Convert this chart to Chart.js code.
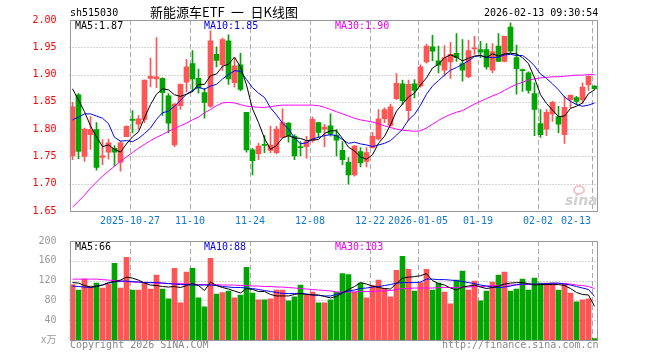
<!DOCTYPE html>
<html>
<head>
<meta charset="utf-8">
<script src="https://cdn.jsdelivr.net/npm/chart.js@4.4.1/dist/chart.umd.min.js"></script>
<style>
body { margin: 0; background: #fff; }
#wrap { position: relative; width: 660px; height: 360px; overflow: hidden; font-family: 'DejaVu Sans Mono', monospace; font-size: 10px; }
canvas { position: absolute; left: 0; }
.t { position: absolute; white-space: nowrap; line-height: 12px; }
</style>
</head>
<body>
<div id="wrap">
  <canvas id="kChart" width="660" height="230" style="top:0"></canvas>
  <canvas id="volChart" width="660" height="130" style="top:230px"></canvas>

  <div class="t" style="left:70px;top:7px;color:#000">sh515030</div>
  <div class="t" style="left:150px;top:4px;font-size:13px;line-height:16px;font-family:'Noto Sans CJK SC',sans-serif;color:#000">新能源车ETF&ensp;一&ensp;日K线图</div>
  <div class="t" style="left:484px;top:7px;color:#000">2026-02-13 09:30:54</div>

  <div class="t" style="left:75px;top:20px;color:#000">MA5:1.87</div>
  <div class="t" style="left:204px;top:20px;color:#0000ee">MA10:1.85</div>
  <div class="t" style="left:335px;top:20px;color:#ee00ee">MA30:1.90</div>

  <div class="t" style="left:75px;top:241px;color:#000">MA5:66</div>
  <div class="t" style="left:204px;top:241px;color:#0000ee">MA10:88</div>
  <div class="t" style="left:335px;top:241px;color:#ee00ee">MA30:103</div>

  <div class="t" style="left:70px;top:339px;color:#888">Copyright 2026 SINA.COM</div>
  <div class="t" style="left:442px;top:339px;color:#888">http://finance.sina.com.cn</div>

  <div class="t" style="left:573px;top:185px;width:8px;height:6px;border:2px solid #f6c4c4;border-radius:50%"></div>
  <div class="t" style="left:565px;top:192px;font:italic bold 14px 'DejaVu Sans',sans-serif;color:#d0d0d0">sina</div>
</div>

<script>
// 交易日
const dates = [
  '2025-10-13','2025-10-14','2025-10-15','2025-10-16','2025-10-17',
  '2025-10-20','2025-10-21','2025-10-22','2025-10-23','2025-10-24',
  '2025-10-27','2025-10-28','2025-10-29','2025-10-30','2025-10-31',
  '2025-11-03','2025-11-04','2025-11-05','2025-11-06','2025-11-07',
  '2025-11-10','2025-11-11','2025-11-12','2025-11-13','2025-11-14',
  '2025-11-17','2025-11-18','2025-11-19','2025-11-20','2025-11-21',
  '2025-11-24','2025-11-25','2025-11-26','2025-11-27','2025-11-28',
  '2025-12-01','2025-12-02','2025-12-03','2025-12-04','2025-12-05',
  '2025-12-08','2025-12-09','2025-12-10','2025-12-11','2025-12-12',
  '2025-12-15','2025-12-16','2025-12-17','2025-12-18','2025-12-19',
  '2025-12-22','2025-12-23','2025-12-24','2025-12-25','2025-12-26',
  '2025-12-29','2025-12-30','2025-12-31',
  '2026-01-05','2026-01-06','2026-01-07','2026-01-08','2026-01-09',
  '2026-01-12','2026-01-13','2026-01-14','2026-01-15','2026-01-16',
  '2026-01-19','2026-01-20','2026-01-21','2026-01-22','2026-01-23',
  '2026-01-26','2026-01-27','2026-01-28','2026-01-29','2026-01-30',
  '2026-02-02','2026-02-03','2026-02-04','2026-02-05','2026-02-06',
  '2026-02-09','2026-02-10','2026-02-11','2026-02-12','2026-02-13'
];

// K线数据
const opens = [1.751,1.863,1.750,1.790,1.799,1.748,1.758,1.765,1.739,1.786,
  1.818,1.809,1.818,1.893,1.892,1.893,1.861,1.771,1.843,1.886,
  1.920,1.893,1.867,1.842,1.937,1.918,1.962,1.885,1.918,1.831,
  1.762,1.755,1.772,1.761,1.757,1.785,1.811,1.787,1.768,1.768,
  1.779,1.812,1.800,1.806,1.789,1.761,1.739,1.716,1.759,1.741,
  1.766,1.782,1.819,1.807,1.856,1.883,1.834,1.883,1.879,1.923,
  1.951,1.925,1.908,1.923,1.939,1.920,1.896,1.947,1.946,1.946,
  1.908,1.952,1.924,1.987,1.931,1.909,1.903,1.865,1.810,1.800,
  1.828,1.823,1.790,1.854,1.858,1.854,1.881,1.879];
const highs = [1.849,1.865,1.802,1.823,1.812,1.781,1.782,1.770,1.778,1.806,
  1.834,1.825,1.890,1.930,1.968,1.894,1.865,1.847,1.883,1.928,
  1.944,1.910,1.875,1.980,1.951,1.967,1.973,1.930,1.939,1.831,
  1.765,1.774,1.788,1.805,1.805,1.837,1.812,1.790,1.777,1.787,
  1.822,1.813,1.809,1.828,1.799,1.777,1.748,1.770,1.766,1.766,
  1.794,1.836,1.839,1.846,1.902,1.890,1.890,1.891,1.918,1.956,
  1.972,1.952,1.953,1.959,1.975,1.964,1.963,1.970,1.961,1.957,
  1.957,1.975,1.970,1.995,1.954,1.910,1.905,1.885,1.836,1.836,
  1.851,1.842,1.860,1.863,1.860,1.885,1.898,1.880];
const lows = [1.744,1.746,1.741,1.763,1.725,1.735,1.745,1.732,1.723,1.786,
  1.793,1.800,1.812,1.878,1.876,1.825,1.793,1.768,1.836,1.868,
  1.868,1.866,1.820,1.840,1.914,1.907,1.882,1.877,1.870,1.758,
  1.716,1.744,1.757,1.757,1.755,1.784,1.776,1.744,1.751,1.747,
  1.776,1.784,1.768,1.787,1.751,1.735,1.699,1.714,1.731,1.731,
  1.765,1.780,1.812,1.805,1.854,1.845,1.816,1.857,1.877,1.921,
  1.925,1.903,1.897,1.893,1.924,1.888,1.894,1.937,1.931,1.910,
  1.903,1.924,1.923,1.940,1.864,1.869,1.866,1.788,1.785,1.788,
  1.814,1.793,1.774,1.839,1.845,1.847,1.871,1.872];
const closes = [1.841,1.759,1.800,1.799,1.730,1.751,1.775,1.758,1.775,1.805,
  1.816,1.819,1.890,1.897,1.896,1.867,1.811,1.846,1.882,1.914,
  1.892,1.875,1.849,1.962,1.926,1.964,1.892,1.916,1.873,1.762,
  1.742,1.769,1.770,1.771,1.800,1.812,1.788,1.751,1.766,1.777,
  1.818,1.794,1.804,1.791,1.780,1.744,1.716,1.769,1.738,1.757,
  1.787,1.819,1.836,1.841,1.884,1.852,1.882,1.871,1.914,1.952,
  1.943,1.917,1.931,1.937,1.931,1.908,1.944,1.949,1.941,1.914,
  1.942,1.924,1.970,1.943,1.911,1.907,1.871,1.836,1.790,1.831,
  1.849,1.809,1.840,1.862,1.851,1.877,1.897,1.874];

// 均线 (价格)
const ma5 = [1.874,1.853,1.832,1.806,1.786,1.768,1.771,1.763,1.758,1.773,
  1.786,1.795,1.821,1.845,1.864,1.874,1.872,1.863,1.860,1.864,
  1.869,1.882,1.882,1.898,1.901,1.915,1.919,1.932,1.914,1.881,
  1.837,1.812,1.783,1.763,1.770,1.784,1.788,1.784,1.783,1.779,
  1.780,1.781,1.792,1.797,1.797,1.783,1.767,1.760,1.749,1.745,
  1.753,1.774,1.787,1.808,1.833,1.846,1.859,1.866,1.881,1.894,
  1.912,1.919,1.931,1.936,1.932,1.925,1.930,1.934,1.935,1.931,
  1.938,1.934,1.938,1.939,1.938,1.931,1.920,1.894,1.863,1.847,
  1.835,1.823,1.824,1.838,1.842,1.848,1.865,1.872];
const ma10 = [1.817,1.822,1.828,1.828,1.824,1.820,1.810,1.785,1.778,1.779,
  1.777,1.783,1.792,1.802,1.818,1.830,1.833,1.842,1.853,1.864,
  1.871,1.877,1.873,1.879,1.882,1.892,1.900,1.907,1.906,1.891,
  1.876,1.866,1.858,1.839,1.826,1.811,1.800,1.784,1.773,1.775,
  1.782,1.785,1.788,1.790,1.788,1.781,1.774,1.776,1.773,1.771,
  1.768,1.771,1.774,1.779,1.789,1.800,1.817,1.827,1.844,1.864,
  1.879,1.889,1.899,1.908,1.913,1.919,1.925,1.933,1.935,1.932,
  1.931,1.932,1.936,1.937,1.935,1.935,1.927,1.916,1.901,1.893,
  1.883,1.872,1.859,1.851,1.845,1.842,1.844,1.848];
const ma30 = [1.657,1.668,1.679,1.692,1.703,1.714,1.723,1.732,1.741,1.749,
  1.757,1.765,1.772,1.779,1.785,1.790,1.796,1.801,1.806,1.811,
  1.817,1.822,1.830,1.836,1.843,1.848,1.849,1.848,1.845,1.842,
  1.841,1.840,1.840,1.841,1.843,1.844,1.844,1.844,1.844,1.844,
  1.844,1.843,1.840,1.836,1.832,1.828,1.824,1.820,1.817,1.815,
  1.813,1.810,1.806,1.803,1.800,1.798,1.797,1.796,1.797,1.802,
  1.809,1.816,1.822,1.827,1.831,1.834,1.840,1.846,1.851,1.856,
  1.861,1.865,1.871,1.877,1.882,1.886,1.890,1.892,1.894,1.895,
  1.896,1.896,1.897,1.898,1.899,1.899,1.900,1.900];

// 成交量 (万)
const volumes = [112,101,123,109,115,105,113,155,105,167,
  101,101,117,103,131,103,83,145,75,137,
  145,85,67,165,93,96,99,85,91,147,
  95,81,81,83,101,101,79,87,111,91,
  97,75,75,81,97,134,132,97,115,85,
  110,121,104,87,141,169,143,99,116,143,
  101,115,97,73,121,139,101,119,79,99,
  117,131,137,99,103,123,101,125,115,115,
  115,101,114,95,77,81,83,3];
const volMa5 = [116,115,110,107,108,111,116,118,121,127,
  125,121,115,111,110,108,107,108,106,110,
  114,110,100,117,110,106,103,99,95,104,
  102,98,98,92,89,89,89,92,94,92,
  91,91,88,85,88,95,102,108,116,113,
  109,106,104,103,114,125,127,128,130,134,
  120,114,111,105,101,107,109,111,107,104,
  106,109,113,115,116,116,114,111,112,112,
  112,112,110,104,96,92,91,68];
const volMa10 = [109,108,107,106,109,111,115,118,119,119,
  118,117,116,116,116,115,114,113,112,112,
  111,111,111,111,110,108,107,106,106,105,
  104,102,100,98,96,94,94,94,94,93,
  91,90,89,89,92,96,99,101,104,105,
  107,108,110,112,115,116,116,116,117,123,
  123,122,122,121,120,118,116,114,111,109,
  107,106,107,109,112,113,113,113,113,114,
  115,115,113,111,108,105,102,88];
const volMa30 = [123,123,123,123,123,122,121,120,119,118,
  117,117,116,116,115,115,114,114,114,113,
  113,112,112,112,112,111,111,111,110,110,
  109,109,108,108,107,107,106,105,104,103,
  102,101,100,99,97,97,97,97,98,98,
  98,99,99,100,102,104,104,105,105,105,
  105,106,106,106,106,107,107,108,108,109,
  110,110,111,111,111,112,112,112,113,113,
  113,114,114,113,111,110,108,104];

// 刻度
const priceTicks = [1.65, 1.70, 1.75, 1.80, 1.85, 1.90, 1.95, 2.00];
const volTicks = [0, 40, 80, 120, 160, 200];
const volTickLabels = ['x万', '40', '80', '120', '160', '200'];
const xTickDates = ['2025-10-27','2025-11-10','2025-11-24','2025-12-08','2025-12-22','2026-01-05','2026-01-19','2026-02-02','2026-02-13'];
const xTickText = ['2025-10-27','11-10','11-24','12-08','12-22','2026-01-05','01-19','02-02','02-13'];

const UP = '#ff5555';
const DOWN = '#00a600';
const candleColors = closes.map((c, i) => c >= opens[i] ? UP : DOWN);
const bodies = opens.map((o, i) => [o, closes[i]]);
const wicks = lows.map((l, i) => [l, highs[i]]);

// 网格、边框和日期标签
const framePlugin = {
    id: 'frame',
    beforeDatasetsDraw(chart, args, opts) {
        const { ctx, chartArea: a, scales: { x, y } } = chart;
        ctx.save();
        ctx.strokeStyle = '#aaaaaa';
        ctx.lineWidth = 1;
        ctx.setLineDash([1, 2]);
        opts.hLines.forEach(v => {
            const py = Math.round(y.getPixelForValue(v)) + 0.5;
            ctx.beginPath();
            ctx.moveTo(a.left, py);
            ctx.lineTo(a.right, py);
            ctx.stroke();
        });
        ctx.setLineDash([5, 3]);
        const half = (x.getPixelForValue(1) - x.getPixelForValue(0)) / 2;
        xTickDates.forEach(d => {
            const px = Math.round(x.getPixelForValue(dates.indexOf(d)) - half) + 0.5;
            ctx.beginPath();
            ctx.moveTo(px, a.top);
            ctx.lineTo(px, a.bottom);
            ctx.stroke();
        });
        ctx.restore();
    },
    afterDraw(chart, args, opts) {
        const { ctx, chartArea: a, scales: { x } } = chart;
        ctx.save();
        ctx.strokeStyle = '#999999';
        ctx.lineWidth = 1;
        ctx.strokeRect(Math.round(a.left) + 0.5, Math.round(a.top) + 0.5,
            Math.round(a.right - a.left) - 1, Math.round(a.bottom - a.top));
        if (opts.labels) {
            const half = (x.getPixelForValue(1) - x.getPixelForValue(0)) / 2;
            ctx.font = "10px 'DejaVu Sans Mono'";
            ctx.fillStyle = '#1478cc';
            ctx.textBaseline = 'middle';
            xTickDates.forEach((d, k) => {
                const px = Math.round(x.getPixelForValue(dates.indexOf(d)) - half);
                const last = k === xTickDates.length - 1;
                ctx.textAlign = last ? 'right' : 'center';
                ctx.fillText(xTickText[k], last ? px - 1 : px, a.bottom + 10);
            });
        }
        ctx.restore();
    }
};

const lineSet = (data, color) => ({
    type: 'line', data, borderColor: color, borderWidth: 1,
    pointRadius: 0, tension: 0, order: 0
});

const hiddenX = {
    type: 'category', offset: true,
    grid: { display: false }, border: { display: false },
    ticks: { display: false }
};

// K线图
new Chart(document.getElementById('kChart'), {
    type: 'bar',
    data: {
        labels: dates,
        datasets: [
            lineSet(ma5, '#000000'),
            lineSet(ma10, '#0000ff'),
            lineSet(ma30, '#ff00ff'),
            { data: bodies, backgroundColor: candleColors, barThickness: 5, minBarLength: 1, grouped: false, order: 1 },
            { data: wicks, backgroundColor: candleColors, barThickness: 1, grouped: false, order: 2 }
        ]
    },
    options: {
        responsive: false, animation: false, devicePixelRatio: 1,
        layout: { padding: { top: 20, right: 62.5, left: 0, bottom: 0 } },
        plugins: {
            legend: { display: false }, tooltip: { enabled: false },
            frame: { hLines: [1.70, 1.75, 1.80, 1.85, 1.90, 1.95], labels: true }
        },
        scales: {
            x: { ...hiddenX, afterFit(s) { s.height = 19; } },
            y: {
                min: 1.65, max: 2.00,
                grid: { display: false }, border: { display: false },
                ticks: {
                    color: '#ff0000', padding: 5,
                    font: { family: 'DejaVu Sans Mono', size: 10 },
                    callback: v => v.toFixed(2)
                },
                afterBuildTicks(s) { s.ticks = priceTicks.map(v => ({ value: v })); },
                afterFit(s) { s.width = 69.5; }
            }
        }
    },
    plugins: [framePlugin]
});

// 成交量图
new Chart(document.getElementById('volChart'), {
    type: 'bar',
    data: {
        labels: dates,
        datasets: [
            lineSet(volMa5, '#000000'),
            lineSet(volMa10, '#0000ff'),
            lineSet(volMa30, '#ff00ff'),
            { data: volumes, backgroundColor: candleColors, barThickness: 5, grouped: false, order: 1 }
        ]
    },
    options: {
        responsive: false, animation: false, devicePixelRatio: 1,
        layout: { padding: { top: 10, right: 62.5, left: 0, bottom: 0 } },
        plugins: {
            legend: { display: false }, tooltip: { enabled: false },
            frame: { hLines: [40, 80, 120, 160], labels: false }
        },
        scales: {
            x: { ...hiddenX, afterFit(s) { s.height = 20; } },
            y: {
                min: 0, max: 200,
                grid: { display: false }, border: { display: false },
                ticks: {
                    color: '#999999', padding: 5,
                    font: { family: "'DejaVu Sans Mono', 'Noto Sans CJK SC'", size: 10 },
                    callback: (v, i) => volTickLabels[i]
                },
                afterBuildTicks(s) { s.ticks = volTicks.map(v => ({ value: v })); },
                afterFit(s) { s.width = 69.5; }
            }
        }
    },
    plugins: [framePlugin]
});
</script>
</body>
</html>
